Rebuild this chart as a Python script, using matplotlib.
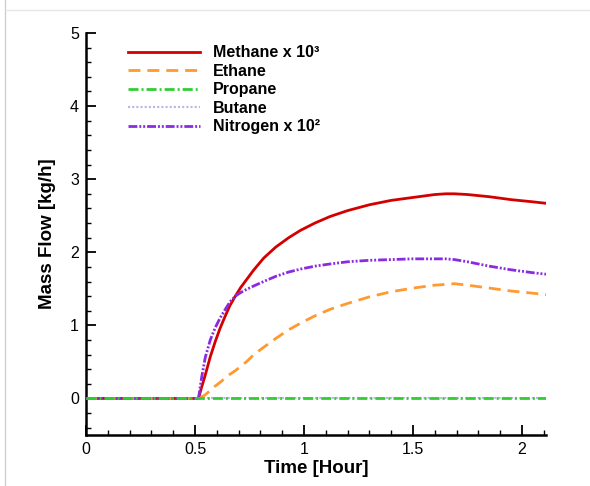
import matplotlib
matplotlib.use("Agg")
import matplotlib.pyplot as plt
from matplotlib.ticker import MultipleLocator
from matplotlib.lines import Line2D

plt.rcParams['font.family'] = ['Liberation Sans', 'DejaVu Sans']

time_h = [0, 0.5, 0.516, 0.53, 0.547, 0.57, 0.593, 0.615, 0.639, 0.66, 0.685, 0.71, 0.735,
          0.77, 0.815, 0.87, 0.93, 0.984, 1.05, 1.12, 1.2, 1.3, 1.4, 1.5, 1.6, 1.65, 1.69,
          1.75, 1.85, 1.95, 2.05, 2.11]
methane = [0, 0, 0, 0.15, 0.32, 0.57, 0.78, 0.96, 1.13, 1.27, 1.40, 1.52, 1.62,
           1.76, 1.92, 2.07, 2.20, 2.30, 2.40, 2.49, 2.57, 2.65, 2.71, 2.75, 2.79, 2.80, 2.80,
           2.79, 2.76, 2.72, 2.69, 2.67]
ethane = [0, 0, 0, 0.02, 0.05, 0.11, 0.17, 0.22, 0.28, 0.33, 0.38, 0.44, 0.50,
          0.60, 0.70, 0.82, 0.94, 1.03, 1.13, 1.22, 1.30, 1.39, 1.46, 1.51, 1.55, 1.56, 1.57,
          1.55, 1.51, 1.47, 1.44, 1.42]
propane = [0] * 32
butane = [0] * 32
nitrogen = [0, 0, 0, 0.28, 0.56, 0.80, 0.97, 1.10, 1.22, 1.32, 1.40, 1.45, 1.49,
            1.54, 1.60, 1.67, 1.73, 1.77, 1.81, 1.84, 1.87, 1.89, 1.90, 1.91, 1.91, 1.91, 1.90,
            1.87, 1.81, 1.76, 1.72, 1.70]

labels = ["Methane x 10\u00b3", "Ethane", "Propane", "Butane", "Nitrogen x 10\u00b2"]
x_ticks = [0, 0.5, 1, 1.5, 2]
x_tick_labels = ['0', '0.5', '1', '1.5', '2']
y_ticks = [0, 1, 2, 3, 4, 5]

fig = plt.figure(figsize=(5.9, 4.86), dpi=100)
ax = fig.add_axes([86/590, 1-435/486, (546-86)/590, (435-33)/486])

lw = 2.0
h_m, = ax.plot(time_h, methane, color='#d40000', lw=lw, ls='-', zorder=3, label=labels[0])
h_e, = ax.plot(time_h, ethane, color='#ff9930', lw=lw, ls=(0, (4.3, 2.5)), zorder=3, label=labels[1])
h_b, = ax.plot(time_h, butane, color='#b8b8e6', lw=1.5, ls=(0, (1, 1)), zorder=2, label=labels[3])
h_p, = ax.plot(time_h, propane, color='#33cc33', lw=lw, ls=(0, (3.6, 1.1, 0.7, 1.1)), zorder=5, label=labels[2])
h_n, = ax.plot(time_h, nitrogen, color='#8a2be2', lw=lw,
               ls=(0, (3.2, 0.7, 0.7, 0.7, 0.7, 0.7)), zorder=4, label=labels[4])

ax.set_xlim(0, 2.11)
ax.set_ylim(-0.5, 5)
ax.set_xticks(x_ticks)
ax.set_yticks(y_ticks)
ax.set_xticklabels(x_tick_labels)
ax.xaxis.set_minor_locator(MultipleLocator(0.1))
ax.yaxis.set_minor_locator(MultipleLocator(0.2))
ax.tick_params(which='major', direction='in', length=7, width=1.3, labelsize=11.5, pad=5)
ax.tick_params(which='minor', direction='in', length=3.5, width=1.0)
ax.tick_params(top=False, right=False, which='both')

for s in ['top', 'right']:
    ax.spines[s].set_visible(False)
for s in ['left', 'bottom']:
    ax.spines[s].set_linewidth(1.8)

ax.set_xlabel('Time [Hour]', fontsize=13.5, fontweight='bold', labelpad=2)
ax.set_ylabel('Mass Flow [kg/h]', fontsize=13.5, fontweight='bold', labelpad=10)

leg = ax.legend(handles=[h_m, h_e, h_p, h_b, h_n], loc='upper left',
                bbox_to_anchor=(0.061, 1.005), frameon=False,
                prop={'weight': 'bold', 'size': 11.5}, handlelength=4.45,
                handletextpad=0.85, labelspacing=0.22)

fig.add_artist(Line2D([5/590, 5/590], [0, 1], transform=fig.transFigure, color='#cfcfcf', lw=1))
fig.add_artist(Line2D([7/590, 1], [1-10/486, 1-10/486], transform=fig.transFigure, color='#e6e6e6', lw=1))

fig.savefig('out.png', dpi=100)
